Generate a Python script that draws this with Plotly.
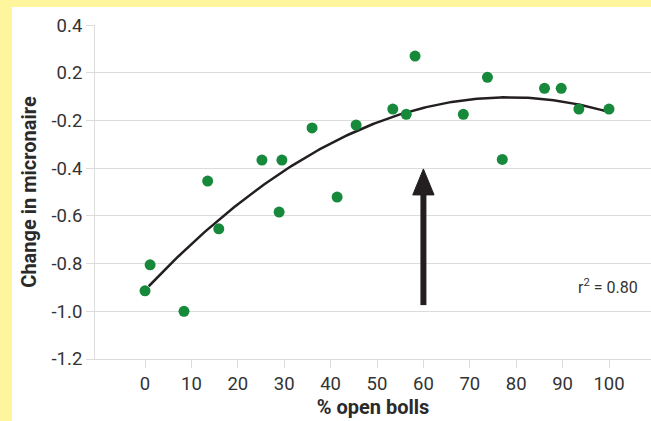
import numpy as np
import plotly.graph_objects as go

# Data
open_bolls = [0, 1.1, 8.4, 13.5, 15.9, 25.2, 28.9, 29.5, 36.0, 41.4, 45.5,
              53.4, 56.3, 58.2, 68.6, 73.8, 77.0, 86.1, 89.7, 93.5, 100]
micronaire_change = [-0.914, -0.805, -1.0, -0.454, -0.654, -0.366, -0.584, -0.366,
                     -0.231, -0.521, -0.219, -0.152, -0.174, 0.070, -0.174, -0.019,
                     -0.363, -0.065, -0.065, -0.152, -0.152]

x_ticks = [0, 10, 20, 30, 40, 50, 60, 70, 80, 90, 100]
y_tickvals = [0.2, 0.0, -0.2, -0.4, -0.6, -0.8, -1.0, -1.2]
y_ticktext = ["0.4", "0.2", "-0.2", "-0.4", "-0.6", "-0.8", "-1.0", "-1.2"]

arrow_x = 60
arrow_bottom = -0.974
arrow_tip = -0.403
arrow_head_base = -0.512
arrow_head_halfwidth = 2.3

r2_text = "r<sup>2</sup> = 0.80"

# quadratic fit
coef = np.polyfit(open_bolls, micronaire_change, 2)
fit_x = np.linspace(0.8, 100, 200)
fit_y = np.polyval(coef, fit_x)

FONT = "Roboto"
TXT = "#333333"
GRID = "#dcdcdc"

fig = go.Figure()

fig.add_trace(go.Scatter(x=fit_x, y=fit_y, mode="lines",
                         line=dict(color="#231f20", width=2.5), hoverinfo="skip"))
fig.add_trace(go.Scatter(x=open_bolls, y=micronaire_change, mode="markers",
                         marker=dict(color="#17893b", size=11, line=dict(width=0))))
# arrow shaft
fig.add_trace(go.Scatter(x=[arrow_x, arrow_x], y=[arrow_bottom, arrow_head_base + 0.01],
                         mode="lines", line=dict(color="#231f20", width=6)))
# arrow head
fig.add_trace(go.Scatter(
    x=[arrow_x - arrow_head_halfwidth, arrow_x + arrow_head_halfwidth, arrow_x, arrow_x - arrow_head_halfwidth],
    y=[arrow_head_base, arrow_head_base, arrow_tip, arrow_head_base],
    mode="lines", fill="toself", fillcolor="#231f20",
    line=dict(color="#231f20", width=1)))

fig.add_annotation(x=106.7, y=-0.898, xref="x", yref="y", text=r2_text,
                   showarrow=False, xanchor="right", yanchor="middle",
                   font=dict(family=FONT, size=16, color=TXT))

# white panel on yellow background
fig.add_shape(type="rect", xref="paper", yref="paper",
              x0=(12 - 95) / 556, x1=1.2, y0=-0.3, y1=(359 - 7) / 334,
              fillcolor="white", line=dict(width=0), layer="below")

fig.update_layout(
    width=651, height=421,
    margin=dict(l=95, r=0, t=25, b=62),
    paper_bgcolor="#fff59d",
    plot_bgcolor="white",
    showlegend=False,
    font=dict(family=FONT, size=18, color=TXT),
    xaxis=dict(range=[-10.78, 109.05], tickvals=x_ticks, showgrid=False,
               zeroline=False, showline=True, linecolor=GRID, linewidth=1,
               ticks="outside", ticklen=8, tickcolor=GRID,
               tickfont=dict(family=FONT, size=18.5, color=TXT),
               title=dict(text="<b>% open bolls</b>", standoff=5,
                          font=dict(family=FONT, size=20, color="#2a2a2a"))),
    yaxis=dict(range=[-1.2, 0.2005], tickvals=y_tickvals, ticktext=y_ticktext,
               showgrid=True, gridcolor=GRID, gridwidth=1,
               zeroline=False, showline=True, linecolor=GRID, linewidth=1,
               ticks="outside", ticklen=8, tickcolor=GRID,
               tickfont=dict(family=FONT, size=18.5, color=TXT),
               title=dict(text="<b>Change in micronaire</b>", standoff=9,
                          font=dict(family=FONT, size=20, color="#2a2a2a"))),
)

fig.write_html("out.html", config={"displayModeBar": False},
               post_script="document.body.style.margin='0';")
